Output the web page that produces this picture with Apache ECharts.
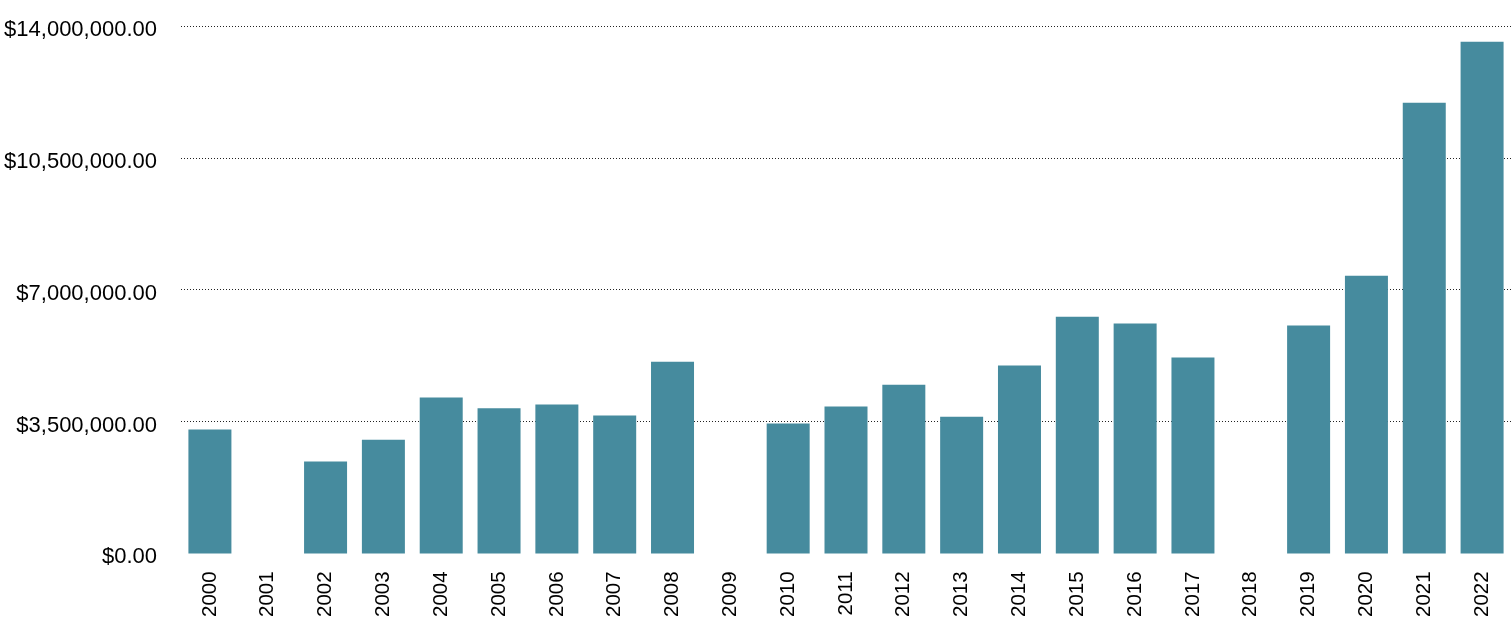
<!DOCTYPE html>
<html>
<head>
<meta charset="utf-8">
<script src="https://cdn.jsdelivr.net/npm/echarts@6/dist/echarts.min.js"></script>
<style>
html,body{margin:0;padding:0;background:#fff;}
#chart{width:1511px;height:620px;}
</style>
</head>
<body>
<div id="chart"></div>
<script>
const years = ['2000','2001','2002','2003','2004','2005','2006','2007','2008','2009','2010','2011','2012','2013','2014','2015','2016','2017','2018','2019','2020','2021','2022'];
const amounts = [3290000, null, 2440000, 3020000, 4140000, 3850000, 3950000, 3660000, 5090000, null, 3450000, 3900000, 4480000, 3630000, 4990000, 6280000, 6100000, 5200000, null, 6050000, 7370000, 11960000, 13580000];
const yTicks = [0, 3500000, 7000000, 10500000, 14000000];

const chart = echarts.init(document.getElementById('chart'));
const fmt = v => '{a|$' + v.toLocaleString('en-US', {minimumFractionDigits: 2, maximumFractionDigits: 2}) + '}';
chart.setOption({
  animation: false,
  grid: {left: 181, right: 0, top: 26, bottom: 66, containLabel: false},
  xAxis: {
    type: 'category',
    data: years,
    axisLine: {show: false},
    axisTick: {show: false},
    axisLabel: {rotate: 90, margin: 18, fontSize: 20.5, color: '#000', fontFamily: 'Liberation Sans, Arial, sans-serif', interval: 0}
  },
  yAxis: {
    type: 'value',
    min: yTicks[0],
    max: yTicks[yTicks.length - 1],
    interval: yTicks[1] - yTicks[0],
    axisLine: {show: false},
    axisTick: {show: false},
    axisLabel: {
      margin: 24, color: '#000', formatter: fmt,
      rich: {a: {fontSize: 22, color: '#000', fontFamily: 'Liberation Sans, Arial, sans-serif', padding: [8, 0, 0, 0]}}
    },
    splitLine: {
      show: true,
      lineStyle: {type: [1, 2], color: '#222', width: 1},
      showMinLine: false
    }
  },
  series: [{
    type: 'bar',
    data: amounts,
    barWidth: 43,
    itemStyle: {color: '#468b9e'}
  }]
});
</script>
</body>
</html>
